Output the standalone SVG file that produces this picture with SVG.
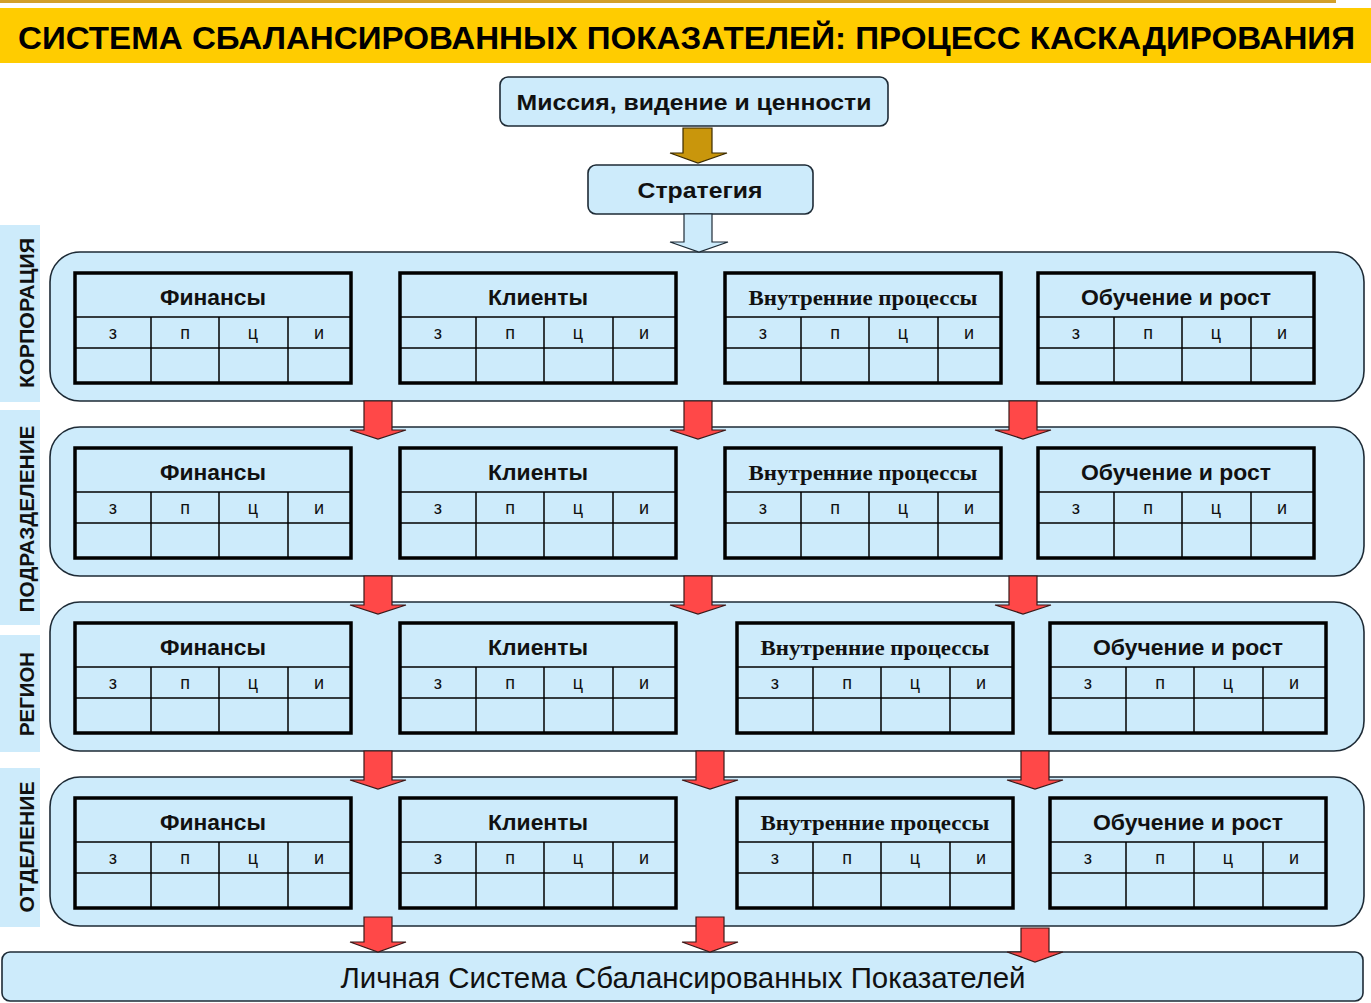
<svg xmlns="http://www.w3.org/2000/svg" width="1371" height="1003" viewBox="0 0 1371 1003">
<style>
.box{fill:#CDEBFB;stroke:#1E2B36;stroke-width:1.6}
.band{fill:#CDEBFB;stroke:#1E2B36;stroke-width:1.6}
.lbl{fill:#CDEBFB}
.tbl{fill:#CDEBFB;stroke:#000;stroke-width:3.5}
.ln{stroke:#000;stroke-width:1.5}
.h{font-family:"Liberation Sans",Arial,sans-serif;font-weight:bold;font-size:22px;fill:#111;text-anchor:middle}
.hs{font-family:"Liberation Serif","Times New Roman",serif;font-weight:bold;font-size:21px;fill:#111;text-anchor:middle}
.c{font-family:"Liberation Sans",Arial,sans-serif;font-size:18px;fill:#111;text-anchor:middle}
.vt{font-family:"Liberation Sans",Arial,sans-serif;font-weight:bold;font-size:21px;fill:#111;text-anchor:middle}
.red{fill:#FF4848;stroke:#3A1A1A;stroke-width:1.2}
</style>
<defs>
<g id="cols">
<line class="ln" x1="0" y1="44" x2="276" y2="44"/>
<line class="ln" x1="0" y1="75" x2="276" y2="75"/>
<line class="ln" x1="76" y1="44" x2="76" y2="110"/>
<line class="ln" x1="144" y1="44" x2="144" y2="110"/>
<line class="ln" x1="213" y1="44" x2="213" y2="110"/>
<text class="c" x="38" y="66">з</text>
<text class="c" x="110" y="66">п</text>
<text class="c" x="178" y="66">ц</text>
<text class="c" x="244" y="66">и</text>
</g>
<text id="t-fin" class="h" x="138" y="32" textLength="106" lengthAdjust="spacingAndGlyphs">Финансы</text>
<text id="t-cli" class="h" x="138" y="32" textLength="100" lengthAdjust="spacingAndGlyphs">Клиенты</text>
<text id="t-int" class="hs" x="138" y="32" textLength="229" lengthAdjust="spacingAndGlyphs">Внутренние процессы</text>
<text id="t-lrn" class="h" x="138" y="32" textLength="190" lengthAdjust="spacingAndGlyphs">Обучение и рост</text>
</defs>

<!-- header -->
<rect x="0" y="0" width="1336" height="3" fill="#D2A02A"/>
<rect x="0" y="8" width="1371" height="55" fill="#FFCC00"/>
<text x="18" y="49" font-family="Liberation Sans, Arial, sans-serif" font-weight="bold" font-size="31" fill="#000" textLength="1337" lengthAdjust="spacingAndGlyphs">СИСТЕМА СБАЛАНСИРОВАННЫХ ПОКАЗАТЕЛЕЙ: ПРОЦЕСС КАСКАДИРОВАНИЯ</text>

<g id="mission">
<rect class="box" x="500" y="77" width="388" height="49" rx="8"/>
<text class="h" x="694" y="110" font-size="23" textLength="355" lengthAdjust="spacingAndGlyphs">Миссия, видение и ценности</text>
</g>
<g id="strategy">
<rect class="box" x="588" y="165" width="225" height="49" rx="8"/>
<text class="h" x="700" y="198" font-size="23" textLength="125" lengthAdjust="spacingAndGlyphs">Стратегия</text>
</g>

<!-- level labels -->
<g id="label-corp"><rect class="lbl" x="0" y="225" width="40" height="177"/><text class="vt" transform="translate(34,313) rotate(-90)" textLength="150" lengthAdjust="spacingAndGlyphs">КОРПОРАЦИЯ</text></g>
<g id="label-div"><rect class="lbl" x="0" y="410" width="40" height="215"/><text class="vt" transform="translate(34,519) rotate(-90)" textLength="187" lengthAdjust="spacingAndGlyphs">ПОДРАЗДЕЛЕНИЕ</text></g>
<g id="label-reg"><rect class="lbl" x="0" y="635" width="40" height="117"/><text class="vt" transform="translate(34,694) rotate(-90)" textLength="84" lengthAdjust="spacingAndGlyphs">РЕГИОН</text></g>
<g id="label-dep"><rect class="lbl" x="0" y="768" width="40" height="159"/><text class="vt" transform="translate(34,847) rotate(-90)" textLength="131" lengthAdjust="spacingAndGlyphs">ОТДЕЛЕНИЕ</text></g>

<!-- bands -->
<g id="band-corp"><rect class="band" x="50" y="252" width="1314" height="149" rx="30"/></g>
<g id="band-div"><rect class="band" x="50" y="427" width="1314" height="149" rx="30"/></g>
<g id="band-reg"><rect class="band" x="50" y="602" width="1314" height="149" rx="30"/></g>
<g id="band-dep"><rect class="band" x="50" y="777" width="1314" height="149" rx="30"/></g>

<!-- corporation tables -->
<g id="corp-fin" transform="translate(75,273)"><rect class="tbl" width="276" height="110"/><use href="#cols"/><use href="#t-fin"/></g>
<g id="corp-cli" transform="translate(400,273)"><rect class="tbl" width="276" height="110"/><use href="#cols"/><use href="#t-cli"/></g>
<g id="corp-int" transform="translate(725,273)"><rect class="tbl" width="276" height="110"/><use href="#cols"/><use href="#t-int"/></g>
<g id="corp-lrn" transform="translate(1038,273)"><rect class="tbl" width="276" height="110"/><use href="#cols"/><use href="#t-lrn"/></g>

<!-- division tables -->
<g id="div-fin" transform="translate(75,448)"><rect class="tbl" width="276" height="110"/><use href="#cols"/><use href="#t-fin"/></g>
<g id="div-cli" transform="translate(400,448)"><rect class="tbl" width="276" height="110"/><use href="#cols"/><use href="#t-cli"/></g>
<g id="div-int" transform="translate(725,448)"><rect class="tbl" width="276" height="110"/><use href="#cols"/><use href="#t-int"/></g>
<g id="div-lrn" transform="translate(1038,448)"><rect class="tbl" width="276" height="110"/><use href="#cols"/><use href="#t-lrn"/></g>

<!-- region tables -->
<g id="reg-fin" transform="translate(75,623)"><rect class="tbl" width="276" height="110"/><use href="#cols"/><use href="#t-fin"/></g>
<g id="reg-cli" transform="translate(400,623)"><rect class="tbl" width="276" height="110"/><use href="#cols"/><use href="#t-cli"/></g>
<g id="reg-int" transform="translate(737,623)"><rect class="tbl" width="276" height="110"/><use href="#cols"/><use href="#t-int"/></g>
<g id="reg-lrn" transform="translate(1050,623)"><rect class="tbl" width="276" height="110"/><use href="#cols"/><use href="#t-lrn"/></g>

<!-- department tables -->
<g id="dep-fin" transform="translate(75,798)"><rect class="tbl" width="276" height="110"/><use href="#cols"/><use href="#t-fin"/></g>
<g id="dep-cli" transform="translate(400,798)"><rect class="tbl" width="276" height="110"/><use href="#cols"/><use href="#t-cli"/></g>
<g id="dep-int" transform="translate(737,798)"><rect class="tbl" width="276" height="110"/><use href="#cols"/><use href="#t-int"/></g>
<g id="dep-lrn" transform="translate(1050,798)"><rect class="tbl" width="276" height="110"/><use href="#cols"/><use href="#t-lrn"/></g>

<g id="personal">
<rect class="box" x="2" y="952" width="1361" height="49" rx="8"/>
<text x="683" y="988" font-family="Liberation Sans, Arial, sans-serif" font-size="29" fill="#111" text-anchor="middle" textLength="685" lengthAdjust="spacingAndGlyphs">Личная Система Сбалансированных Показателей</text>
</g>

<!-- connectors -->
<g id="connectors">
<path d="M683,128 H712 V153 H727 L698,163 L670,153 H683 Z" fill="#C9960C" stroke="#3A2A00" stroke-width="1.2"/>
<path d="M684,214 H712 V242 H728 L699,252 L670,242 H684 Z" fill="#CDEBFB" stroke="#1E2B36" stroke-width="1.2"/>

<path class="red" d="M364,401 H392 V430 H406 L378,439 L350,430 H364 Z"/>
<path class="red" d="M684,401 H712 V430 H726 L698,439 L670,430 H684 Z"/>
<path class="red" d="M1009,401 H1037 V430 H1051 L1023,439 L995,430 H1009 Z"/>

<path class="red" d="M364,576 H392 V605 H406 L378,614 L350,605 H364 Z"/>
<path class="red" d="M684,576 H712 V605 H726 L698,614 L670,605 H684 Z"/>
<path class="red" d="M1009,576 H1037 V605 H1051 L1023,614 L995,605 H1009 Z"/>

<path class="red" d="M364,751 H392 V780 H406 L378,789 L350,780 H364 Z"/>
<path class="red" d="M696,751 H724 V780 H738 L710,789 L682,780 H696 Z"/>
<path class="red" d="M1021,751 H1049 V780 H1063 L1035,789 L1007,780 H1021 Z"/>

<path class="red" d="M364,917 H392 V942 H406 L378,952 L350,942 H364 Z"/>
<path class="red" d="M696,917 H724 V942 H738 L710,952 L682,942 H696 Z"/>
<path class="red" d="M1021,928 H1049 V952 H1063 L1035,962 L1007,952 H1021 Z"/>
</g>
</svg>
